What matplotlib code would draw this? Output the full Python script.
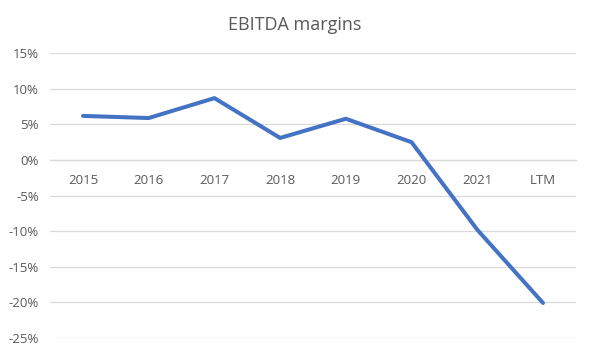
import numpy as np
import matplotlib.pyplot as plt
from matplotlib.ticker import FuncFormatter

categories = ['2015', '2016', '2017', '2018', '2019', '2020', '2021', 'LTM']
margins = [6.2, 5.9, 8.7, 3.1, 5.8, 2.5, -9.8, -20.1]

plt.rcParams['font.family'] = ['Open Sans', 'DejaVu Sans']

fig = plt.figure(figsize=(5.9, 3.53), dpi=100)
ax = fig.add_axes([0.085, 0.043, 0.891, 0.806])

x = np.arange(len(categories))
ax.plot(x, margins, color='#4472C4', linewidth=2.9, solid_capstyle='round', zorder=3)

ax.set_xlim(-0.5, len(categories) - 0.5)
ax.set_ylim(-25, 15)
ax.set_yticks(np.arange(-25, 16, 5))
ax.yaxis.set_major_formatter(FuncFormatter(lambda v, p: f'{v:.0f}%'))
ax.grid(axis='y', color='#D9D9D9', linewidth=0.9)
ax.set_axisbelow(True)

for s in ['top', 'right', 'left']:
    ax.spines[s].set_visible(False)
ax.spines['bottom'].set_position(('data', 0))
ax.spines['bottom'].set_color('#D9D9D9')
ax.spines['bottom'].set_linewidth(0.9)

ax.set_xticks(x)
ax.set_xticklabels(categories)
ax.tick_params(axis='x', length=0, pad=10, labelsize=9.5, colors='#595959')
ax.tick_params(axis='y', length=0, pad=8, labelsize=9.5, colors='#595959')

fig.suptitle('EBITDA margins', y=0.955, fontsize=13, color='#595959')

fig.savefig('out.png', dpi=100)
